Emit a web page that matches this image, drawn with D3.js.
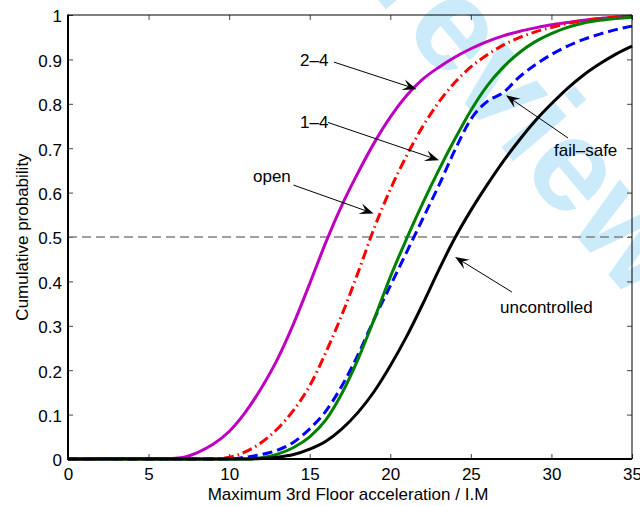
<!DOCTYPE html>
<html>
<head>
<meta charset="utf-8">
<script src="https://cdn.jsdelivr.net/npm/d3@7"></script>
<style>
  html, body { margin: 0; padding: 0; background: #fff; }
  svg { display: block; font-family: "Liberation Sans", Arial, Helvetica, sans-serif; }
</style>
</head>
<body>
<svg id="chart" width="640" height="506"></svg>
<script>
// Maximum 3rd floor acceleration (intensity measure), sampled at whole units
const accel = [0, 1, 2, 3, 4, 5, 6, 7, 8, 9, 10, 11, 12, 13, 14, 15, 16, 17,
               18, 19, 20, 21, 22, 23, 24, 25, 26, 27, 28, 29, 30, 31, 32, 33, 34, 35];

// Cumulative probability of each control configuration
const cdf24 = [0, 0, 0.001, 0.001, 0.001, 0.001, 0.001, 0.003, 0.014, 0.033, 0.062, 0.105,
               0.16, 0.225, 0.305, 0.395, 0.488, 0.572, 0.645, 0.712, 0.77, 0.818, 0.855, 0.882,
               0.905, 0.924, 0.94, 0.953, 0.963, 0.971, 0.978, 0.983, 0.988, 0.992, 0.995, 0.997];
const cdfOpen = [0, 0, 0, 0, 0, 0, 0, 0, 0, 0, 0.004, 0.016,
                 0.037, 0.068, 0.11, 0.165, 0.24, 0.325, 0.42, 0.52, 0.607, 0.682, 0.748, 0.803,
                 0.848, 0.883, 0.91, 0.932, 0.949, 0.962, 0.972, 0.981, 0.987, 0.992, 0.995, 0.997];
const cdf14 = [0, 0, 0, 0, 0, 0, 0, 0, 0, 0, 0, 0,
               0.003, 0.011, 0.026, 0.05, 0.088, 0.148, 0.225, 0.315, 0.41, 0.495, 0.575, 0.65,
               0.72, 0.785, 0.84, 0.882, 0.915, 0.94, 0.958, 0.972, 0.982, 0.988, 0.992, 0.995];
const cdfFailSafe = [0, 0, 0, 0, 0, 0, 0, 0, 0, 0, 0, 0.004,
                     0.01, 0.02, 0.038, 0.068, 0.108, 0.165, 0.235, 0.315, 0.39, 0.465, 0.54, 0.615,
                     0.695, 0.765, 0.805, 0.825, 0.86, 0.888, 0.911, 0.93, 0.945, 0.957, 0.967, 0.975];
const cdfUncontrolled = [0, 0, 0, 0, 0, 0, 0, 0, 0, 0, 0, 0,
                         0.001, 0.004, 0.01, 0.022, 0.04, 0.068, 0.105, 0.152, 0.21, 0.275, 0.348, 0.425,
                         0.497, 0.56, 0.617, 0.67, 0.718, 0.762, 0.8, 0.835, 0.865, 0.89, 0.912, 0.93];

const xTicks = [0, 5, 10, 15, 20, 25, 30, 35];
const yTicks = [0, 0.1, 0.2, 0.3, 0.4, 0.5, 0.6, 0.7, 0.8, 0.9, 1];
const medianLevel = 0.5;

const xLabel = "Maximum 3rd Floor acceleration / I.M";
const yLabel = "Cumulative probability";

// Line series, drawn in this order (last on top)
const series = [
  { name: "2–4",          values: cdf24,           color: "#bf00bf", dash: null },
  { name: "open",         values: cdfOpen,         color: "#ff0000", dash: "10,4,1.5,4" },
  { name: "fail–safe",    values: cdfFailSafe,     color: "#0000ff", dash: "10,5" },
  { name: "1–4",          values: cdf14,           color: "#008000", dash: null },
  { name: "uncontrolled", values: cdfUncontrolled, color: "#000000", dash: null }
];

// Callout labels: text anchor and arrow tail/tip, in data units
const callouts = [
  { text: "2–4",          at: [14.4, 0.885],  tail: [16.5, 0.894],  tip: [21.63, 0.833] },
  { text: "1–4",          at: [14.4, 0.745],  tail: [16.13, 0.758], tip: [23.02, 0.673] },
  { text: "open",         at: [11.48, 0.624], tail: [13.99, 0.617], tip: [18.96, 0.553] },
  { text: "fail–safe",    at: [30.16, 0.682], tail: [31.03, 0.723], tip: [27.18, 0.819] },
  { text: "uncontrolled", at: [26.81, 0.329], tail: [27.55, 0.376], tip: [24.02, 0.455] }
];

const svg = d3.select("#chart");
const W = 640, H = 506;
const plot = { left: 68, right: 632, top: 15, bottom: 459 };

svg.append("rect").attr("width", W).attr("height", H).attr("fill", "#fff");

// faint watermark behind the figure
svg.append("text")
  .attr("transform", "translate(472,112) rotate(50)")
  .attr("text-anchor", "middle")
  .attr("font-size", 132)
  .attr("font-weight", "bold")
  .attr("fill", "#cbebfa")
  .text("Preview");

const x = d3.scaleLinear().domain([0, 35]).range([plot.left, plot.right]);
const y = d3.scaleLinear().domain([0, 1]).range([plot.bottom, plot.top]);

const fontSize = 17;

// bottom axis (ticks point inward)
const gx = svg.append("g")
  .attr("transform", `translate(0,${plot.bottom})`)
  .call(d3.axisBottom(x).tickValues(xTicks).tickFormat(d3.format("d"))
        .tickSize(-5).tickPadding(9));
// left axis
const gy = svg.append("g")
  .attr("transform", `translate(${plot.left},0)`)
  .call(d3.axisLeft(y).tickValues(yTicks).tickFormat(d => d3.format("")(+d.toFixed(1)))
        .tickSize(-5).tickPadding(6));
// top and right axes: ticks only
const gt = svg.append("g")
  .attr("transform", `translate(0,${plot.top})`)
  .call(d3.axisTop(x).tickValues(xTicks).tickFormat("").tickSize(-5));
const gr = svg.append("g")
  .attr("transform", `translate(${plot.right},0)`)
  .call(d3.axisRight(y).tickValues(yTicks).tickFormat("").tickSize(-5));

[gx, gy, gt, gr].forEach(g => {
  g.select(".domain").remove();
  g.selectAll(".tick line").attr("stroke", "#444").attr("stroke-width", 1);
  g.selectAll(".tick text")
    .attr("fill", "#000")
    .attr("font-size", fontSize)
    .attr("font-family", "Liberation Sans, Arial, sans-serif");
});
gy.selectAll(".tick text").attr("dy", "0.4em");

// axis titles
svg.append("text")
  .attr("x", 348).attr("y", 500)
  .attr("text-anchor", "middle")
  .attr("font-size", fontSize)
  .text(xLabel);
svg.append("text")
  .attr("transform", `translate(28,${(plot.top + plot.bottom) / 2}) rotate(-90)`)
  .attr("text-anchor", "middle")
  .attr("font-size", fontSize)
  .text(yLabel);

// 50% reference line
svg.append("line")
  .attr("x1", x(0)).attr("x2", x(35))
  .attr("y1", y(medianLevel)).attr("y2", y(medianLevel))
  .attr("stroke", "#808080").attr("stroke-width", 1.6)
  .attr("stroke-dasharray", "9,5");

// CDF curves
const line = d3.line()
  .x((d, i) => x(accel[i]))
  .y(d => y(d))
  .curve(d3.curveMonotoneX);

svg.append("g").selectAll("path")
  .data(series)
  .join("path")
  .attr("d", s => line(s.values))
  .attr("fill", "none")
  .attr("stroke", s => s.color)
  .attr("stroke-width", 3)
  .attr("stroke-linejoin", "round")
  .attr("stroke-dasharray", s => s.dash);

// plot box
svg.append("line").attr("x1", plot.left).attr("x2", plot.right)
  .attr("y1", plot.top).attr("y2", plot.top).attr("stroke", "#000").attr("stroke-width", 1);
svg.append("line").attr("x1", plot.right).attr("x2", plot.right)
  .attr("y1", plot.top).attr("y2", plot.bottom).attr("stroke", "#000").attr("stroke-width", 1);
svg.append("line").attr("x1", plot.left).attr("x2", plot.left)
  .attr("y1", plot.top - 0.5).attr("y2", plot.bottom + 1).attr("stroke", "#000").attr("stroke-width", 2);
svg.append("line").attr("x1", plot.left).attr("x2", plot.right)
  .attr("y1", plot.bottom).attr("y2", plot.bottom).attr("stroke", "#000").attr("stroke-width", 2);

// callout arrows and labels
const headLen = 14, headHalf = 5.5, notch = 0.6;
const ann = svg.append("g");
callouts.forEach(c => {
  const x1 = x(c.tail[0]), y1 = y(c.tail[1]);
  const x2 = x(c.tip[0]), y2 = y(c.tip[1]);
  const len = Math.hypot(x2 - x1, y2 - y1);
  const ux = (x2 - x1) / len, uy = (y2 - y1) / len;
  const nx = -uy, ny = ux;
  const bx = x2 - headLen * ux, by = y2 - headLen * uy;
  const mx = x2 - headLen * notch * ux, my = y2 - headLen * notch * uy;
  ann.append("line")
    .attr("x1", x1).attr("y1", y1).attr("x2", mx).attr("y2", my)
    .attr("stroke", "#000").attr("stroke-width", 1);
  ann.append("path")
    .attr("d", `M${x2},${y2}L${bx + headHalf * nx},${by + headHalf * ny}L${mx},${my}L${bx - headHalf * nx},${by - headHalf * ny}Z`)
    .attr("fill", "#000");
  ann.append("text")
    .attr("x", x(c.at[0])).attr("y", y(c.at[1]))
    .attr("font-size", fontSize)
    .text(c.text);
});
</script>
</body>
</html>
